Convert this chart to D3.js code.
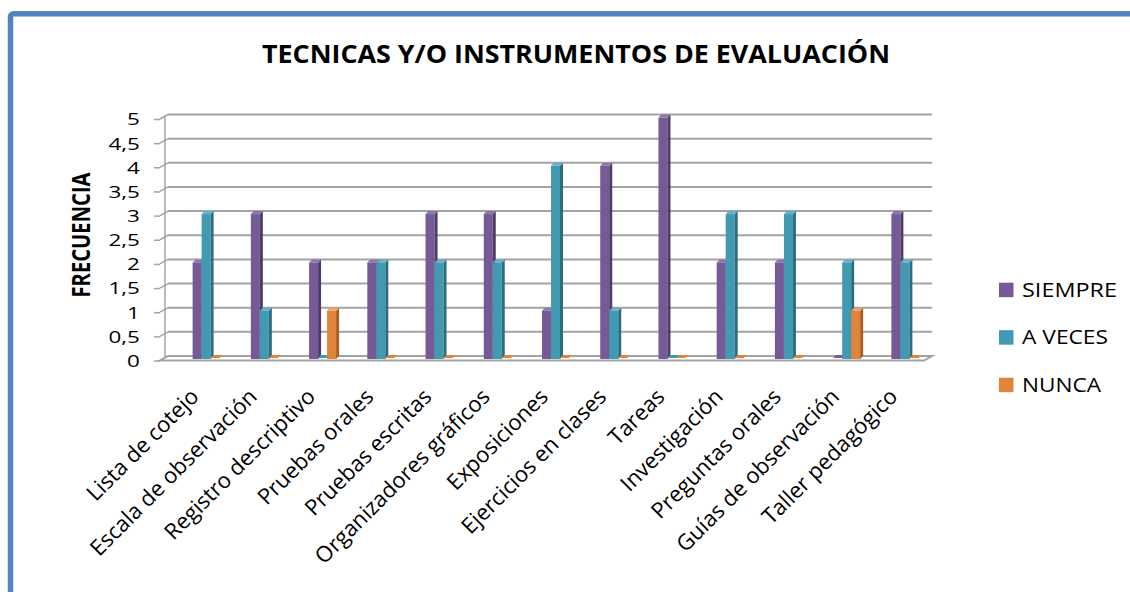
<!DOCTYPE html>
<html>
<head>
<meta charset="utf-8">
<script src="https://cdn.jsdelivr.net/npm/d3@7"></script>
<style>
  html, body { margin: 0; padding: 0; background: #fff; }
  svg { display: block; font-family: "Open Sans", sans-serif; }
</style>
</head>
<body>
<svg id="chart" width="1130" height="592"></svg>
<script>
// datos
const categories = ["Lista de cotejo", "Escala de observación", "Registro descriptivo", "Pruebas orales",
    "Pruebas escritas", "Organizadores gráficos", "Exposiciones", "Ejercicios en clases", "Tareas",
    "Investigación", "Preguntas orales", "Guías de observación", "Taller pedagógico"];
const seriesNames = ["SIEMPRE", "A VECES", "NUNCA"];
const siempre = [2, 3, 2, 2, 3, 3, 1, 4, 5, 2, 2, 0, 3];
const aVeces  = [3, 1, 0, 2, 2, 2, 4, 1, 0, 3, 3, 2, 2];
const nunca   = [0, 0, 1, 0, 0, 0, 0, 0, 0, 0, 0, 1, 0];
const yTicks = [0, 0.5, 1, 1.5, 2, 2.5, 3, 3.5, 4, 4.5, 5];

const values = [siempre, aVeces, nunca];
// colores: cara, lado, tapa
const colors = [
    { face: "#765a95", side: "#4e3d66", top: "#8e76ad" },
    { face: "#4299b2", side: "#2c6e80", top: "#62b2c8" },
    { face: "#e0843b", side: "#a85f22", top: "#eea263" }
];

const svg = d3.select("#chart");

// marco azul
svg.append("rect")
    .attr("x", 10.5).attr("y", 13.8)
    .attr("width", 1160).attr("height", 620)
    .attr("rx", 3)
    .attr("fill", "none")
    .attr("stroke", "#5483c2")
    .attr("stroke-width", 5.5);

// titulo
svg.append("text")
    .attr("x", 576).attr("y", 63)
    .attr("text-anchor", "middle")
    .attr("font-weight", "bold")
    .attr("font-size", 25)
    .attr("textLength", 628)
    .attr("lengthAdjust", "spacingAndGlyphs")
    .text("TECNICAS Y/O INSTRUMENTOS DE EVALUACIÓN");

// escalas
const y = d3.scaleLinear().domain([0, 5]).range([359, 117.5]);
const x = d3.scaleBand().domain(categories).range([177, 934]);
const groupW = 27;
const xs = d3.scaleBand().domain(seriesNames).range([0, groupW]);
const depthX = 3, depthY = 3;      // profundidad de barra
const wallX = 8;                   // profundidad del piso/pared

const frontX = 160, backX0 = frontX + wallX, backX1 = 932;

// cuadricula (pared del fondo)
const grid = svg.append("g");
yTicks.forEach(v => {
    const yb = y(v) - 3, yf = y(v) + 1.5;
    if (v > 0) {
        grid.append("line")
            .attr("x1", backX0).attr("x2", backX1)
            .attr("y1", yb).attr("y2", yb)
            .attr("stroke", "#a3a3a3").attr("stroke-width", 2);
    }
    grid.append("line")
        .attr("x1", frontX).attr("y1", yf)
        .attr("x2", backX0).attr("y2", yb)
        .attr("stroke", "#a3a3a3").attr("stroke-width", 1.5);
});
grid.append("line")
    .attr("x1", frontX + 5).attr("x2", frontX + 5)
    .attr("y1", y(5) - 1).attr("y2", y(0) - 1)
    .attr("stroke", "#a3a3a3").attr("stroke-width", 1.5);

// piso
const y0b = y(0) - 3, y0f = y(0) + 1.5;
grid.append("path")
    .attr("d", `M${frontX},${y0f} L${backX0},${y0b} L${backX1},${y0b} L${backX1 - wallX},${y0f} Z`)
    .attr("fill", "#fff")
    .attr("stroke", "#a3a3a3").attr("stroke-width", 2);

// eje Y
const yAxis = d3.axisLeft(y)
    .tickValues(yTicks)
    .tickSize(6)
    .tickFormat(d => String(d).replace(".", ","));

const ax = svg.append("g")
    .attr("transform", `translate(${frontX},1.5)`)
    .call(yAxis);
ax.select(".domain").remove();
ax.selectAll(".tick line").attr("stroke", "#a3a3a3").attr("stroke-width", 1.5);
ax.selectAll(".tick text")
    .attr("x", -14.8)
    .attr("dy", "0.36em")
    .attr("transform", "scale(1.36,1)")
    .attr("font-size", 16.5)
    .attr("font-family", "Open Sans, sans-serif")
    .attr("fill", "#000");

// titulo eje Y
svg.append("text")
    .attr("transform", "translate(90,235) scale(1.3,1) rotate(-90)")
    .attr("text-anchor", "middle")
    .attr("font-weight", "bold")
    .attr("font-size", 19)
    .attr("textLength", 125)
    .attr("lengthAdjust", "spacingAndGlyphs")
    .text("FRECUENCIA");

// barras 3D
const bars = svg.append("g");
categories.forEach((cat, i) => {
    seriesNames.forEach((s, k) => {
        const v = values[k][i];
        const c = colors[k];
        const bx = x(cat) + (x.bandwidth() - groupW) / 2 + xs(s);
        const bw = xs.bandwidth();
        const base = y(0);
        const top = v > 0 ? y(v) : base - 1;
        const g = bars.append("g");
        if (v > 0) {
            g.append("rect")
                .attr("x", bx).attr("y", top)
                .attr("width", bw).attr("height", base - top)
                .attr("fill", c.face);
            g.append("path")
                .attr("d", `M${bx + bw},${top} L${bx + bw + depthX},${top - depthY} L${bx + bw + depthX},${base - depthY} L${bx + bw},${base} Z`)
                .attr("fill", c.side);
        }
        g.append("path")
            .attr("d", `M${bx},${top} L${bx + depthX},${top - depthY} L${bx + bw + depthX},${top - depthY} L${bx + bw},${top} Z`)
            .attr("fill", v > 0 ? c.top : c.face);
    });
});

// etiquetas eje X
svg.append("g").selectAll("text")
    .data(categories)
    .join("text")
    .attr("transform", d => `translate(${x(d) + x.bandwidth() / 2 - 6},398) rotate(-45)`)
    .attr("text-anchor", "end")
    .attr("font-size", 22)
    .attr("fill", "#000")
    .text(d => d);

// leyenda
const legend = svg.append("g");
const legendLen = [95, 86, 79];
seriesNames.forEach((s, k) => {
    const ly = 282.7 + k * 47.5;
    legend.append("rect")
        .attr("x", 999).attr("y", ly)
        .attr("width", 14.5).attr("height", 14.5)
        .attr("fill", colors[k].face);
    legend.append("text")
        .attr("x", 1022).attr("y", ly + 14)
        .attr("font-size", 19.5)
        .attr("textLength", legendLen[k])
        .attr("lengthAdjust", "spacingAndGlyphs")
        .text(s);
});
</script>
</body>
</html>
